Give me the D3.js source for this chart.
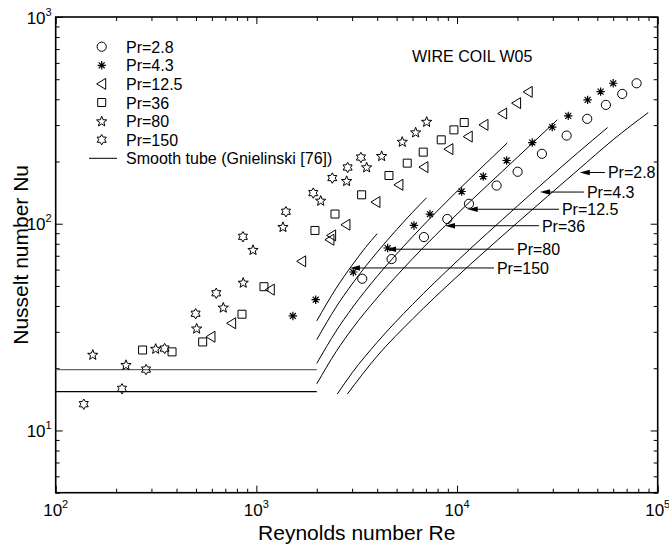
<!DOCTYPE html>
<html><head><meta charset="utf-8">
<script src="https://cdn.jsdelivr.net/npm/d3@7"></script>
<style>
body{margin:0;background:#fff}
svg{display:block}
text{font-family:"Liberation Sans",Arial,Helvetica,sans-serif;fill:#000}
</style>
</head><body>
<svg id="chart" width="669" height="544"></svg>
<script>
// ---------- data ----------
const seriesLabels = ["Pr=2.8","Pr=4.3","Pr=12.5","Pr=36","Pr=80","Pr=150"];
const seriesSymbols = ["circle","asterisk","triangle","square","star5","star6"];

const rePr28 = [3370,4720,6840,8940,11470,15750,20040,26490,35170,44540,55200,66560,78500];
const nuPr28 = [54.2,67.5,86.2,105.4,124.9,153,178.4,217.9,267,321.6,375.7,424.6,478];

const rePr43 = [1520,1975,3040,4510,6100,7330,10540,13510,17670,23700,29810,35820,44740,51940,60020];
const nuPr43 = [35.8,42.9,58.4,76.3,98.1,111.4,143.2,169.2,202.2,247,293.2,332.4,397.2,435.6,478];

const rePr125 = [594,753,1173,1682,2326,2372,2795,3944,5133,6840,9110,11370,13620,16880,19810,22630];
const nuPr125 = [28.4,33.0,48.0,65.8,83.7,87.8,98.9,127.3,154.3,187.9,229.6,264,300.8,341.2,383,434.2];

const rePr36 = [271,380,540,848,1091,1959,2465,3347,4579,5648,6785,8343,9650,10860];
const nuPr36 = [24.5,24.0,26.8,36.5,49.6,92.8,111.4,138,171.1,196.4,222,254.6,284.5,308.7];

const rePr80 = [153,224,315,504,684,860,962,1357,2092,2818,3544,4210,5333,6219,7056];
const nuPr80 = [23.3,20.8,24.9,31.2,39.4,52.0,74.9,96.7,129.6,161.4,187.9,213.1,249.8,277.3,312];

const rePr150 = [138,214,282,349,498,631,857,1404,1921,2389,2850,3320];
const nuPr150 = [13.4,15.9,19.7,24.9,36.7,46.1,86.5,114.3,140.7,166.3,187.1,209.1];

// smooth tube (Gnielinski) curves
const gnRe150 = [2000,2500,3000,3500,4000];
const gnNu150 = [33.9,48.8,63.0,76.8,89.5];
const gnRe80 = [2000,2500,3000,4000,5000,6000,7050];
const gnNu80 = [27.5,39.6,51.1,72.9,93.6,113.6,133.5];
const gnRe36 = [2000,2500,3000,4000,6000,10000,14000,17800];
const gnNu36 = [21.1,30.3,39.1,55.7,86.5,143.5,196.8,246];
const gnRe125 = [2000,2500,3000,4000,6000,10000,20000,31600];
const gnNu125 = [16.8,24.1,31.0,43.8,67.7,111.3,209.7,318];
const gnRe43 = [2530,3000,4000,6000,10000,20000,40000,56300];
const gnNu43 = [15.0,19.0,26.7,40.7,65.9,121.8,220.7,292];
const gnRe28 = [2840,4000,6000,10000,20000,40000,60000,89700];
const gnNu28 = [15.0,22.9,34.6,55.5,101.3,181.7,255,345];

// laminar smooth-tube lines
const lamRe = [100,2000];
const lamNuUpper = 19.7;
const lamNuLower = 15.4;

// annotations
const annoLabels = ["Pr=2.8","Pr=4.3","Pr=12.5","Pr=36","Pr=80","Pr=150"];
const annoTipRe  = [40900,25900,11300,8710,4430,2925];
const annoNu     = [177,142.3,117.5,97.8,75.3,61.1];
const annoTextRe = [56480,44380,33310,26490,19890,15810];

const xDomain = [100,100000];
const yDomain = [5,1000];
const xTitle = "Reynolds number Re";
const yTitle = "Nusselt number Nu";
const chartNote = "WIRE COIL W05";
const legendLineLabel = "Smooth tube (Gnielinski [76])";

// ---------- drawing ----------
const svg = d3.select("#chart");
const L = 55.7, R = 657.7, T = 17, B = 492.7;
const x = d3.scaleLog().domain(xDomain).range([L,R]);
const y = d3.scaleLog().domain(yDomain).range([B,T]);

function minorTicks(dom){
  const out=[];
  for(let e=Math.floor(Math.log10(dom[0])); e<=Math.ceil(Math.log10(dom[1])); e++){
    for(let m=2;m<10;m++){const v=m*Math.pow(10,e); if(v>=dom[0]-1e-9 && v<=dom[1]+1e-9) out.push(v);}
  }
  return out;
}
function majorTicks(dom){
  const out=[];
  for(let e=Math.ceil(Math.log10(dom[0])); e<=Math.floor(Math.log10(dom[1])); e++) out.push(Math.pow(10,e));
  return out;
}
const xMin=minorTicks(xDomain), xMaj=majorTicks(xDomain);
const yMin=minorTicks(yDomain), yMaj=majorTicks(yDomain);

function styleAxis(g){
  g.select(".domain").remove();
  g.selectAll("line").attr("stroke","#000").attr("stroke-width",1);
}
const ax = [
  [d3.axisBottom(x), `translate(0,${B})`, xMin, -4],
  [d3.axisBottom(x), `translate(0,${B})`, xMaj, -7],
  [d3.axisTop(x), `translate(0,${T})`, xMin, -4],
  [d3.axisTop(x), `translate(0,${T})`, xMaj, -7],
  [d3.axisLeft(y), `translate(${L},0)`, yMin, -4],
  [d3.axisLeft(y), `translate(${L},0)`, yMaj, -7],
  [d3.axisRight(y), `translate(${R},0)`, yMin, -4],
  [d3.axisRight(y), `translate(${R},0)`, yMaj, -7]
];
ax.forEach(([a,tr,vals,size])=>{
  svg.append("g").attr("transform",tr)
    .call(a.tickValues(vals).tickSize(size).tickFormat(""))
    .call(styleAxis);
});
svg.append("rect").attr("x",L).attr("y",T).attr("width",R-L).attr("height",B-T)
  .attr("fill","none").attr("stroke","#000").attr("stroke-width",1.6);

// tick labels
xMaj.forEach(v=>{
  const t=svg.append("text").attr("x",x(v)).attr("y",B+23.5).attr("text-anchor","middle").attr("font-size",17);
  t.append("tspan").text("10");
  t.append("tspan").attr("dy",-8).attr("font-size",11).text(Math.round(Math.log10(v)));
});
yMaj.forEach(v=>{
  const yy=Math.max(y(v)+6.5, 19.5);
  const t=svg.append("text").attr("x",L-4).attr("y",yy).attr("text-anchor","end").attr("font-size",17);
  t.append("tspan").text("10");
  t.append("tspan").attr("dy",-8).attr("font-size",11).text(Math.round(Math.log10(v)));
});

// axis titles
svg.append("text").attr("x",(L+R)/2).attr("y",540).attr("text-anchor","middle").attr("font-size",21).text(xTitle);
svg.append("text").attr("transform",`translate(28,${(T+B)/2}) rotate(-90)`).attr("text-anchor","middle").attr("font-size",21).text(yTitle);

// lines
const line = d3.line().x(d=>x(d[0])).y(d=>y(d[1])).curve(d3.curveMonotoneX);
const lineG = svg.append("g").attr("fill","none").attr("stroke","#000").attr("stroke-width",1);
[[gnRe150,gnNu150],[gnRe80,gnNu80],[gnRe36,gnNu36],[gnRe125,gnNu125],[gnRe43,gnNu43],[gnRe28,gnNu28]].forEach(([rs,ns])=>{
  lineG.append("path").attr("d",line(rs.map((r,i)=>[r,ns[i]])));
});
lineG.append("path").attr("stroke","#666").attr("stroke-width",1.3).attr("d",line(lamRe.map(r=>[r,lamNuUpper])));
lineG.append("path").attr("stroke-width",1.3).attr("d",line(lamRe.map(r=>[r,lamNuLower])));

// symbols
function symPath(type){
  const p=d3.path();
  if(type==="circle"){ p.arc(0,0,4.6,0,2*Math.PI); }
  else if(type==="square"){ p.rect(-4,-4,8,8); }
  else if(type==="triangle"){ p.moveTo(-5,0); p.lineTo(4,-5.5); p.lineTo(4,5.5); p.closePath(); }
  else if(type==="asterisk"){
    for(let k=0;k<4;k++){const a=k*Math.PI/4; const r=4.2; p.moveTo(-r*Math.sin(a),-r*Math.cos(a)); p.lineTo(r*Math.sin(a),r*Math.cos(a));}
  }
  else if(type==="star5"){
    for(let k=0;k<10;k++){const a=-Math.PI/2+k*Math.PI/5; const r=k%2?2.3:5.4; const px=r*Math.cos(a), py=r*Math.sin(a)+0.5; if(k===0)p.moveTo(px,py); else p.lineTo(px,py);} p.closePath();
  }
  else if(type==="star6"){
    for(let k=0;k<12;k++){const a=-Math.PI/2+k*Math.PI/6; const r=k%2?3.0:5.2; const px=r*Math.cos(a), py=r*Math.sin(a); if(k===0)p.moveTo(px,py); else p.lineTo(px,py);} p.closePath();
  }
  return p.toString();
}
const seriesData = [[rePr28,nuPr28],[rePr43,nuPr43],[rePr125,nuPr125],[rePr36,nuPr36],[rePr80,nuPr80],[rePr150,nuPr150]];
const symG = svg.append("g").attr("fill","none").attr("stroke","#000").attr("stroke-width",1);
seriesData.forEach(([rs,ns],si)=>{
  symG.selectAll(null).data(rs.map((r,i)=>[r,ns[i]])).enter().append("path")
    .attr("transform",d=>`translate(${x(d[0])},${y(d[1])})`)
    .attr("d",symPath(seriesSymbols[si]))
    .attr("stroke-width",seriesSymbols[si]==="asterisk"?1.2:1);
});

// annotations (arrow line + filled arrowhead pointing left to the curve)
annoLabels.forEach((lab,i)=>{
  const yy=y(annoNu[i]);
  const tx=x(annoTextRe[i]);
  const tip=x(annoTipRe[i]);
  svg.append("line").attr("x1",tip+6).attr("x2",tx-3).attr("y1",yy).attr("y2",yy)
    .attr("stroke","#000").attr("stroke-width",1);
  svg.append("path").attr("d",`M${tip},${yy}L${tip+10},${yy-2.8}L${tip+10},${yy+2.8}Z`).attr("fill","#000");
  svg.append("text").attr("x",tx).attr("y",yy+6).attr("font-size",16).text(lab);
});

// note
svg.append("text").attr("x",412).attr("y",62).attr("font-size",16).text(chartNote);

// legend
const legX=101.7, legY0=46.7, legDy=18.6;
seriesLabels.forEach((lab,i)=>{
  const yy=legY0+i*legDy;
  svg.append("path").attr("transform",`translate(${legX},${yy})`).attr("d",symPath(seriesSymbols[i]))
    .attr("fill","none").attr("stroke","#000").attr("stroke-width",seriesSymbols[i]==="asterisk"?1.2:1);
  svg.append("text").attr("x",126).attr("y",yy+6).attr("font-size",16).text(lab);
});
const ly=legY0+6*legDy;
svg.append("line").attr("x1",89).attr("x2",117).attr("y1",ly).attr("y2",ly).attr("stroke","#000").attr("stroke-width",1);
svg.append("text").attr("x",126).attr("y",ly+6).attr("font-size",16).text(legendLineLabel);
</script>
</body></html>
